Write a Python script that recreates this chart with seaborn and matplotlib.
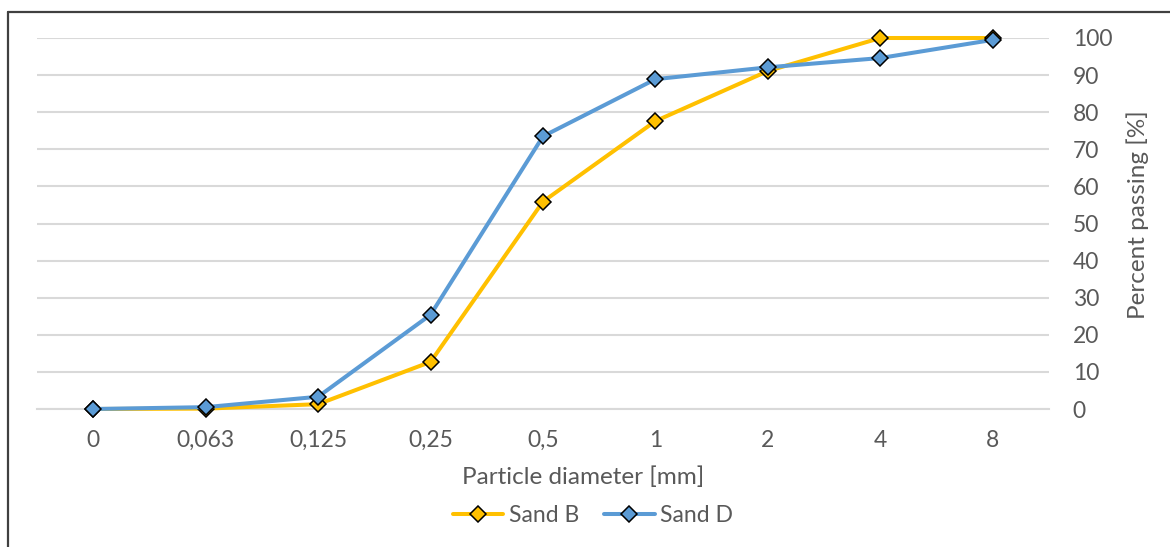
import pandas as pd
import matplotlib
matplotlib.use('Agg')
import matplotlib.pyplot as plt
from matplotlib.lines import Line2D
import seaborn as sns

# sieve sizes (categorical axis) and percent passing
sizes = ['0', '0,063', '0,125', '0,25', '0,5', '1', '2', '4', '8']
sandB = [0, 0.1, 1.3, 12.7, 55.9, 77.6, 91.1, 100, 100]
sandD = [0, 0.5, 3.3, 25.4, 73.5, 88.9, 92.1, 94.6, 99.5]

sns.set_theme(style='white')
plt.rcParams['font.family'] = ['Lato', 'DejaVu Sans']

df = pd.DataFrame({
    'pos': list(range(len(sizes))) * 2,
    'passing': sandB + sandD,
    'sample': ['Sand B'] * len(sizes) + ['Sand D'] * len(sizes),
})

fig = plt.figure(figsize=(11.7, 5.47), dpi=100)
ax = fig.add_axes([37 / 1170, 1 - 409 / 547, 1012 / 1170, 371 / 547])

sns.lineplot(data=df, x='pos', y='passing', hue='sample', style='sample',
             palette={'Sand B': '#FFC000', 'Sand D': '#5B9BD5'},
             markers={'Sand B': 'D', 'Sand D': 'D'}, dashes=False,
             linewidth=2.9, markersize=8.3, markeredgecolor='black',
             markeredgewidth=1.1, legend=False, ax=ax, clip_on=False)

ax.set_xlim(-0.5, len(sizes) - 0.5)
ax.set_ylim(0, 100)
ax.set_xticks(range(len(sizes)))
ax.set_xticklabels(sizes)
ax.set_yticks(range(0, 101, 10))

ax.yaxis.tick_right()
ax.yaxis.set_label_position('right')
ax.grid(axis='y', color='#D9D9D9', linewidth=1.5)
ax.set_axisbelow(True)
for s in ['top', 'left', 'right']:
    ax.spines[s].set_visible(False)
ax.spines['bottom'].set_color('#D9D9D9')
ax.spines['bottom'].set_linewidth(1.5)

# category boundary ticks like the original
ax.set_xticks([i - 0.5 for i in range(len(sizes) + 1)], minor=True)
ax.tick_params(axis='x', which='minor', direction='in', length=8,
               color='#D9D9D9', width=1.5)
ax.tick_params(axis='x', which='major', length=0, pad=15,
               labelsize=16.5, labelcolor='#595959')
ax.tick_params(axis='y', length=0, pad=17, labelsize=16.5, labelcolor='#595959')
for t in ax.get_yticklabels():
    t.set_horizontalalignment('left')

ax.set_xlabel('Particle diameter [mm]', fontsize=17.5, color='#595959')
ax.xaxis.set_label_coords((583 - 37) / 1012, (409 - 466) / 371)
ax.set_ylabel('Percent passing [%]', fontsize=17.5, color='#595959')
ax.yaxis.set_label_coords((1126 - 37) / 1012, (409 - 215) / 371)

for line in ax.lines:
    line.set_zorder(3)
leg = ax.legend(handles=ax.lines[:2], labels=['Sand B', 'Sand D'], ncol=2,
                frameon=False, fontsize=16.5, labelcolor='#595959',
                loc='center', bbox_to_anchor=(593 / 1170, 1 - 516 / 547),
                bbox_transform=fig.transFigure, handlelength=2.2,
                handletextpad=0.25, columnspacing=1.1)

# chart frame (top and left edge visible in the crop)
fig.add_artist(Line2D([8 / 1170, 8 / 1170], [0, 1 - 12 / 547],
                      transform=fig.transFigure, color='#404040', linewidth=1.6))
fig.add_artist(Line2D([8 / 1170, 1], [1 - 12 / 547, 1 - 12 / 547],
                      transform=fig.transFigure, color='#404040', linewidth=1.6))

fig.savefig('out.png', dpi=100)
